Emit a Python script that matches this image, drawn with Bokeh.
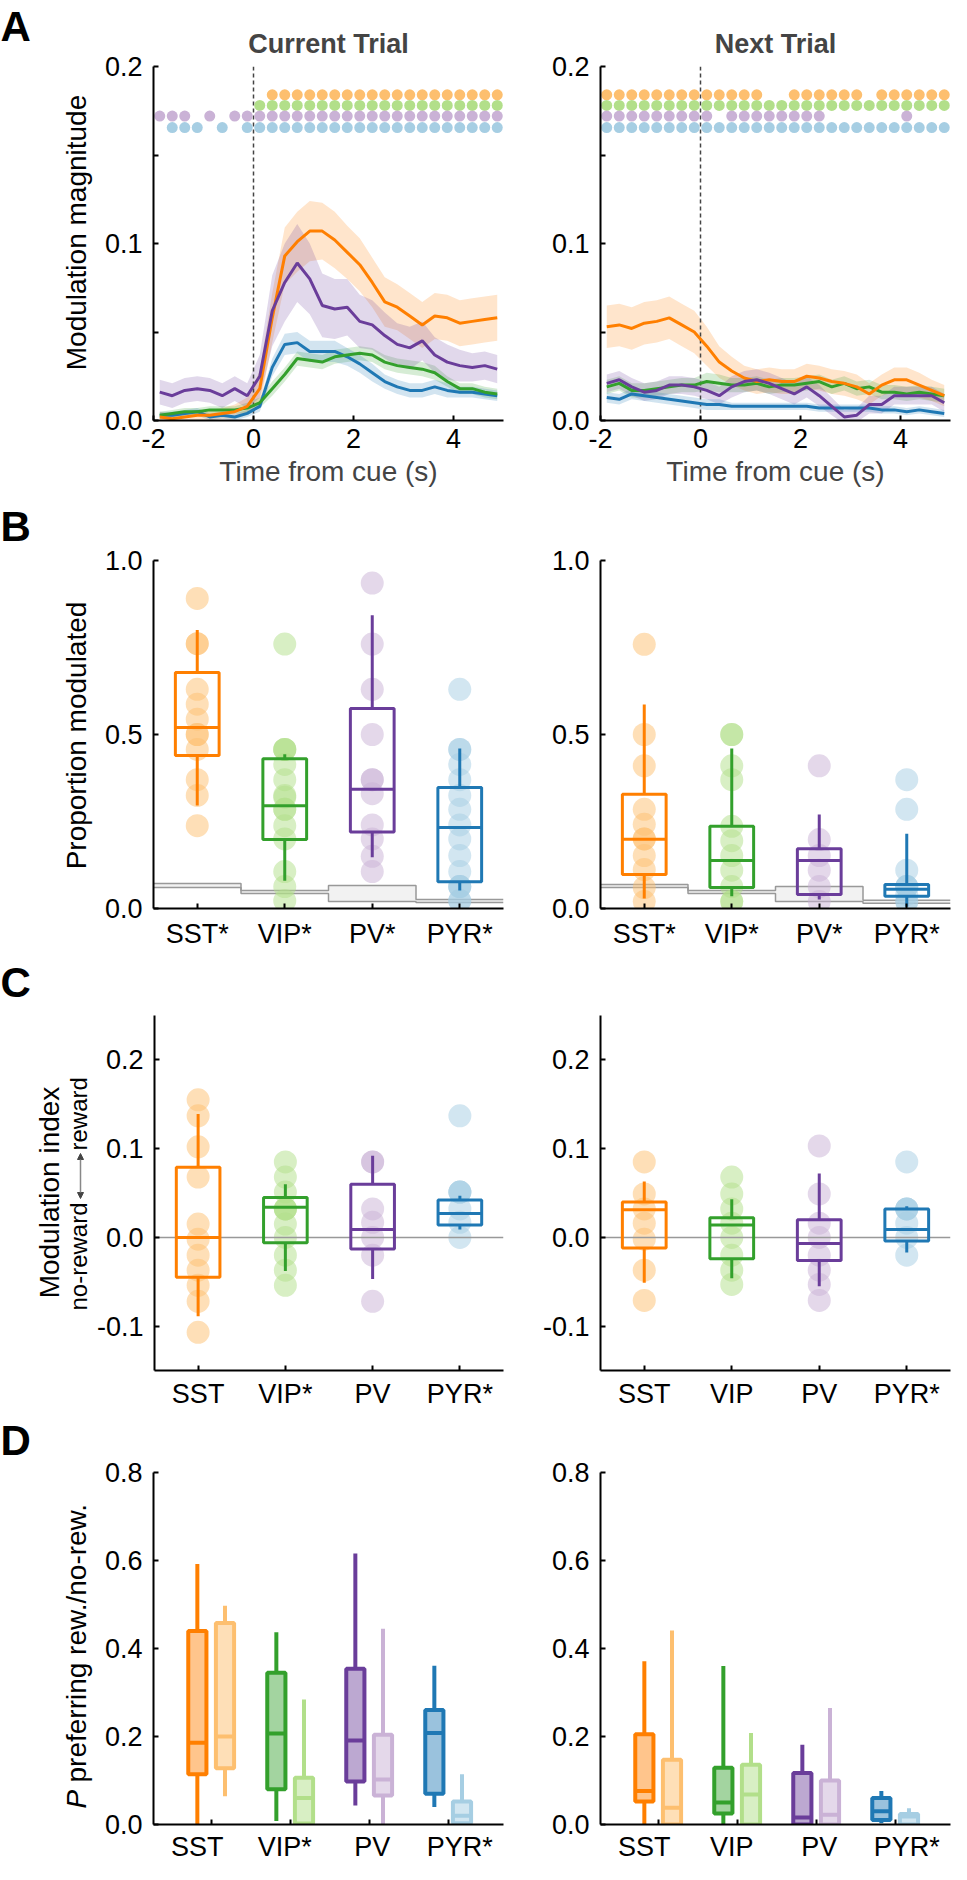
import numpy as np
from bokeh.plotting import figure
from bokeh.layouts import column, row
from bokeh.models import (FixedTicker, PrintfTickFormatter, CustomJSTickFormatter,
                          Label, Arrow, NormalHead)
from bokeh.embed import file_html
from bokeh.resources import INLINE

FONT = "Liberation Sans"

# cell types and colours (dark = main, light = paired / points)
cells = ["SST", "VIP", "PV", "PYR"]
dark = ["#ff7f00", "#33a02c", "#6a3d9a", "#1f78b4"]
light = ["#fdbf6f", "#b2df8a", "#cab2d6", "#a6cee3"]

# ---------------- panel A: modulation magnitude time courses ----------------
t = [-1.875, -1.625, -1.375, -1.125, -0.875, -0.625, -0.375, -0.125, 0.125, 0.375,
     0.625, 0.875, 1.125, 1.375, 1.625, 1.875, 2.125, 2.375, 2.625, 2.875,
     3.125, 3.375, 3.625, 3.875, 4.125, 4.375, 4.625, 4.875]

cur_sst = [0.002, 0.001, 0.002, 0.003, 0.003, 0.004, 0.005, 0.008, 0.018, 0.058,
           0.093, 0.101, 0.107, 0.107, 0.102, 0.095, 0.088, 0.078, 0.067, 0.064,
           0.059, 0.054, 0.059, 0.058, 0.055, 0.056, 0.057, 0.058]
cur_vip = [0.003, 0.004, 0.005, 0.005, 0.006, 0.006, 0.006, 0.007, 0.010, 0.018,
           0.026, 0.035, 0.034, 0.033, 0.036, 0.037, 0.038, 0.037, 0.033, 0.031,
           0.030, 0.029, 0.027, 0.022, 0.018, 0.018, 0.016, 0.015]
cur_pv = [0.016, 0.014, 0.017, 0.018, 0.017, 0.014, 0.018, 0.014, 0.025, 0.062,
          0.078, 0.089, 0.080, 0.065, 0.063, 0.064, 0.056, 0.054, 0.048, 0.043,
          0.041, 0.045, 0.037, 0.033, 0.031, 0.030, 0.031, 0.029]
cur_pyr = [0.003, 0.003, 0.004, 0.005, 0.002, 0.003, 0.002, 0.004, 0.008, 0.030,
           0.043, 0.044, 0.039, 0.039, 0.039, 0.036, 0.032, 0.027, 0.022, 0.019,
           0.017, 0.017, 0.019, 0.017, 0.016, 0.016, 0.015, 0.014]

cur_sem_sst = [0.003, 0.003, 0.003, 0.003, 0.003, 0.003, 0.004, 0.005, 0.010, 0.014,
               0.016, 0.017, 0.017, 0.016, 0.016, 0.015, 0.015, 0.014, 0.014, 0.013,
               0.013, 0.013, 0.013, 0.013, 0.013, 0.013, 0.013, 0.013]
cur_sem_vip = [0.002, 0.002, 0.002, 0.002, 0.002, 0.002, 0.002, 0.003, 0.003, 0.004,
               0.004, 0.004, 0.004, 0.004, 0.004, 0.004, 0.004, 0.004, 0.004, 0.004,
               0.004, 0.004, 0.004, 0.003, 0.003, 0.003, 0.003, 0.003]
cur_sem_pv = [0.007, 0.007, 0.007, 0.007, 0.007, 0.007, 0.007, 0.007, 0.012, 0.020,
              0.022, 0.022, 0.020, 0.018, 0.017, 0.016, 0.015, 0.014, 0.013, 0.012,
              0.012, 0.011, 0.010, 0.010, 0.009, 0.008, 0.008, 0.008]
cur_sem_pyr = [0.002, 0.002, 0.002, 0.002, 0.002, 0.002, 0.002, 0.002, 0.003, 0.005,
               0.006, 0.006, 0.006, 0.006, 0.006, 0.005, 0.005, 0.005, 0.004, 0.004,
               0.004, 0.004, 0.004, 0.004, 0.003, 0.003, 0.003, 0.003]

next_sst = [0.053, 0.054, 0.052, 0.055, 0.056, 0.058, 0.054, 0.050, 0.042, 0.033,
            0.028, 0.024, 0.022, 0.023, 0.022, 0.022, 0.025, 0.024, 0.022, 0.021,
            0.019, 0.015, 0.020, 0.023, 0.023, 0.020, 0.017, 0.014]
next_vip = [0.019, 0.021, 0.017, 0.017, 0.018, 0.019, 0.020, 0.020, 0.022, 0.021,
            0.020, 0.020, 0.021, 0.019, 0.020, 0.020, 0.021, 0.022, 0.019, 0.021,
            0.018, 0.019, 0.016, 0.016, 0.015, 0.016, 0.015, 0.014]
next_pv = [0.021, 0.023, 0.019, 0.016, 0.017, 0.020, 0.020, 0.019, 0.017, 0.014,
           0.019, 0.022, 0.023, 0.021, 0.018, 0.015, 0.019, 0.014, 0.008, 0.002,
           0.003, 0.009, 0.009, 0.014, 0.014, 0.014, 0.014, 0.010]
next_pyr = [0.013, 0.012, 0.015, 0.014, 0.013, 0.012, 0.011, 0.010, 0.009, 0.009,
            0.008, 0.008, 0.008, 0.008, 0.008, 0.008, 0.008, 0.007, 0.007, 0.007,
            0.007, 0.007, 0.006, 0.006, 0.005, 0.006, 0.005, 0.004]

next_sem_sst = [0.012, 0.012, 0.012, 0.012, 0.012, 0.012, 0.012, 0.012, 0.011, 0.009,
                0.008, 0.007, 0.007, 0.007, 0.007, 0.007, 0.007, 0.007, 0.007, 0.007,
                0.007, 0.006, 0.006, 0.007, 0.007, 0.007, 0.006, 0.006]
next_sem_vip = [0.004, 0.004, 0.004, 0.004, 0.004, 0.004, 0.004, 0.004, 0.005, 0.005,
                0.004, 0.004, 0.004, 0.004, 0.004, 0.004, 0.004, 0.004, 0.004, 0.004,
                0.004, 0.004, 0.004, 0.004, 0.004, 0.004, 0.004, 0.004]
next_sem_pv = [0.005, 0.005, 0.005, 0.005, 0.005, 0.005, 0.005, 0.005, 0.005, 0.005,
               0.006, 0.006, 0.006, 0.006, 0.006, 0.006, 0.006, 0.006, 0.005, 0.004,
               0.004, 0.005, 0.005, 0.005, 0.005, 0.005, 0.005, 0.005]
next_sem_pyr = [0.003, 0.003, 0.003, 0.003, 0.003, 0.003, 0.003, 0.003, 0.003, 0.003,
                0.002, 0.002, 0.002, 0.002, 0.002, 0.002, 0.002, 0.002, 0.002, 0.002,
                0.002, 0.002, 0.002, 0.002, 0.002, 0.002, 0.002, 0.002]

# significant time bins (1 = dot drawn)
sig_cur_sst = "0000000001111111111111111111"
sig_cur_vip = "0000000011111111111111111111"
sig_cur_pv = "1110101111111111111111111111"
sig_cur_pyr = "0111010111111111111111111111"
sig_next_sst = "1111111111111001111110111111"
sig_next_vip = "1111111111111111111111111111"
sig_next_pv = "1111111110111111110000001000"
sig_next_pyr = "1111111111111111111111111111"
sig_rows = [0.184, 0.178, 0.172, 0.1655]

# ---------------- panel B: proportion modulated ----------------
propB_cur = dict(
    wlo=[0.296, 0.080, 0.147, 0.052], q1=[0.440, 0.198, 0.220, 0.077],
    med=[0.520, 0.295, 0.343, 0.233], q3=[0.678, 0.430, 0.575, 0.348],
    whi=[0.800, 0.443, 0.843, 0.460])
ptsB_cur = [
    [0.891, 0.761, 0.761, 0.63, 0.587, 0.544, 0.5, 0.5, 0.457, 0.37, 0.325, 0.238],
    [0.76, 0.457, 0.457, 0.457, 0.414, 0.37, 0.325, 0.32, 0.285, 0.285, 0.238, 0.2,
     0.106, 0.063, 0.022],
    [0.935, 0.76, 0.63, 0.5, 0.37, 0.37, 0.33, 0.24, 0.2, 0.15, 0.106],
    [0.63, 0.457, 0.457, 0.414, 0.37, 0.325, 0.285, 0.24, 0.2, 0.152, 0.106,
     0.063, 0.063, 0.063, 0.022, 0.022]]
chanceB_cur_lo = [0.060, 0.043, 0.020, 0.017]
chanceB_cur_hi = [0.072, 0.052, 0.066, 0.026]

propB_next = dict(
    wlo=[0.029, 0.035, 0.026, 0.005], q1=[0.098, 0.060, 0.040, 0.035],
    med=[0.199, 0.138, 0.138, 0.055], q3=[0.328, 0.236, 0.172, 0.069],
    whi=[0.586, 0.460, 0.270, 0.215])
ptsB_next = [
    [0.759, 0.5, 0.41, 0.285, 0.242, 0.2, 0.2, 0.152, 0.112, 0.06, 0.02],
    [0.5, 0.5, 0.41, 0.37, 0.236, 0.195, 0.152, 0.11, 0.063, 0.02, 0.02],
    [0.41, 0.198, 0.152, 0.11, 0.063, 0.02],
    [0.37, 0.285, 0.11, 0.063, 0.063, 0.063, 0.04, 0.02, 0.02]]
chanceB_next_lo = [0.060, 0.043, 0.020, 0.015]
chanceB_next_hi = [0.069, 0.052, 0.063, 0.024]
labelsB = ["SST*", "VIP*", "PV*", "PYR*"]

# ---------------- panel C: modulation index ----------------
idxC_cur = dict(
    wlo=[-0.089, -0.038, -0.047, 0.009], q1=[-0.045, -0.006, -0.013, 0.014],
    med=[0.000, 0.034, 0.009, 0.027], q3=[0.079, 0.045, 0.060, 0.042],
    whi=[0.139, 0.060, 0.092, 0.047])
ptsC_cur = [
    [0.155, 0.137, 0.102, 0.068, 0.015, -0.002, -0.02, -0.037, -0.054, -0.072, -0.107],
    [0.085, 0.068, 0.051, 0.032, 0.032, 0.032, 0.015, 0.0, -0.02, -0.037, -0.054],
    [0.085, 0.085, 0.032, 0.017, 0.0, -0.02, -0.072],
    [0.137, 0.051, 0.051, 0.051, 0.032, 0.017, 0.0]]
idxC_next = dict(
    wlo=[-0.051, -0.046, -0.055, -0.017], q1=[-0.012, -0.024, -0.026, -0.004],
    med=[0.031, 0.014, -0.007, 0.009], q3=[0.040, 0.022, 0.020, 0.032],
    whi=[0.063, 0.043, 0.072, 0.035])
ptsC_next = [
    [0.085, 0.049, 0.032, 0.016, -0.002, -0.037, -0.071],
    [0.068, 0.049, 0.032, 0.016, 0.0, -0.02, -0.037, -0.053],
    [0.103, 0.049, 0.016, 0.0, -0.02, -0.037, -0.053, -0.071],
    [0.085, 0.032, 0.032, 0.032, 0.016, 0.0, -0.02]]
labelsC_cur = ["SST", "VIP*", "PV", "PYR*"]
labelsC_next = ["SST", "VIP", "PV", "PYR*"]

# ---------------- panel D: P preferring rew. (dark) / no-rew. (light) ----------------
rewD_cur = dict(
    wlo=[0.000, 0.008, 0.043, 0.040], q1=[0.114, 0.080, 0.098, 0.070],
    med=[0.186, 0.207, 0.191, 0.208], q3=[0.440, 0.345, 0.354, 0.260],
    whi=[0.592, 0.437, 0.616, 0.361])
norD_cur = dict(
    wlo=[0.064, 0.000, 0.000, 0.000], q1=[0.128, 0.002, 0.066, 0.003],
    med=[0.200, 0.060, 0.102, 0.020], q3=[0.458, 0.106, 0.204, 0.052],
    whi=[0.497, 0.284, 0.445, 0.114])
rewD_next = dict(
    wlo=[0.000, 0.000, 0.000, 0.003], q1=[0.052, 0.025, 0.000, 0.010],
    med=[0.076, 0.050, 0.016, 0.030], q3=[0.205, 0.129, 0.117, 0.060],
    whi=[0.371, 0.360, 0.181, 0.076])
norD_next = dict(
    wlo=[0.000, 0.000, 0.000, 0.000], q1=[0.000, 0.000, 0.000, 0.000],
    med=[0.038, 0.068, 0.022, 0.018], q3=[0.147, 0.136, 0.100, 0.024],
    whi=[0.441, 0.208, 0.265, 0.037])
labelsD_cur = ["SST", "VIP*", "PV", "PYR*"]
labelsD_next = ["SST", "VIP", "PV", "PYR*"]

# ---------------- layout (pixels) ----------------
GUT_W = 93                            # left gutter holding panel letters + y labels
FRAME_W = 350
SIDES = [(60, 10), (87, 1)]           # (left border, right border)
ROWS = {"A": (66, 354, 82), "B": (58, 348, 54), "C": (53, 355, 48), "D": (54, 352, 40)}
TOTAL_H = sum(sum(v) for v in ROWS.values())
D_LO, D_PX = 0.27, 79.0               # panel D x scale


def new_fig(rk, side, xr, yr):
    top, fh, bot = ROWS[rk]
    lb, rb = SIDES[side]
    p = figure(width=lb + FRAME_W + rb, height=top + fh + bot, x_range=xr, y_range=yr,
               output_backend="svg", toolbar_location=None,
               min_border_left=lb, min_border_right=rb,
               min_border_top=top, min_border_bottom=bot)
    p.outline_line_color = None
    p.grid.visible = False
    p.background_fill_color = "white"
    p.border_fill_color = "white"
    for ax in p.axis:
        ax.axis_line_width = 2
        ax.axis_line_color = "black"
        ax.major_tick_in = 5
        ax.major_tick_out = 0
        ax.minor_tick_in = 5
        ax.minor_tick_out = 0
        ax.major_tick_line_width = 2
        ax.minor_tick_line_width = 2
        ax.major_label_text_font = FONT
        ax.major_label_text_font_size = "27px"
        ax.major_label_text_color = "black"
    p.xaxis.major_label_standoff = 8
    p.yaxis.major_label_standoff = 11
    return p


# gutter: data coordinates are page pixels (offset by the 8px body margin)
gut = figure(width=GUT_W, height=TOTAL_H, x_range=(0, GUT_W), y_range=(TOTAL_H, 0),
             output_backend="svg", toolbar_location=None, x_axis_location=None,
             y_axis_location=None, min_border=0)
gut.outline_line_color = None
gut.grid.visible = False


def gut_text(px, py, text, size, style="normal", align="center", angle=0.0):
    gut.add_layout(Label(x=px - 8, y=py - 8, text=text, text_font=FONT,
                         text_font_size=size, text_font_style=style, text_align=align,
                         text_baseline="middle", angle=angle, text_color="black"))


def cat_axis(p, ticks, names, minor=None):
    p.xaxis.ticker = FixedTicker(ticks=ticks, minor_ticks=minor or [])
    p.xaxis.formatter = CustomJSTickFormatter(args=dict(names=names),
                                              code="return names[index];")


def draw_boxes(p, pos, st, half, line_cols, lw, fill_cols=None, fill_alpha=0.0):
    pos = np.asarray(pos, dtype=float)
    p.segment(x0=pos, y0=st["wlo"], x1=pos, y1=st["q1"], line_color=line_cols, line_width=lw)
    p.segment(x0=pos, y0=st["q3"], x1=pos, y1=st["whi"], line_color=line_cols, line_width=lw)
    p.quad(left=pos - half, right=pos + half, bottom=st["q1"], top=st["q3"],
           fill_color=fill_cols if fill_cols else None, fill_alpha=fill_alpha,
           line_color=line_cols, line_width=lw)
    p.segment(x0=pos - half, y0=st["med"], x1=pos + half, y1=st["med"],
              line_color=line_cols, line_width=lw)


def draw_points(p, pts):
    xs, ys, cs = [], [], []
    for i, vals in enumerate(pts):
        xs += [i + 1] * len(vals)
        ys += vals
        cs += [light[i]] * len(vals)
    p.scatter(xs, ys, size=23, fill_color=cs, fill_alpha=0.5, line_color=None)


# ---------------- row A ----------------
rowA = []
a_sets = [
    ([cur_sst, cur_vip, cur_pv, cur_pyr], [cur_sem_sst, cur_sem_vip, cur_sem_pv, cur_sem_pyr],
     [sig_cur_sst, sig_cur_vip, sig_cur_pv, sig_cur_pyr], "Current Trial"),
    ([next_sst, next_vip, next_pv, next_pyr], [next_sem_sst, next_sem_vip, next_sem_pv, next_sem_pyr],
     [sig_next_sst, sig_next_vip, sig_next_pv, sig_next_pyr], "Next Trial"),
]
for side, (means, sems, sigs, title) in enumerate(a_sets):
    p = new_fig("A", side, (-2, 5), (0, 0.2))
    tt = np.array(t)
    for i in range(4):
        m, s = np.array(means[i]), np.array(sems[i])
        p.varea(x=tt, y1=m - s, y2=m + s, fill_color=dark[i], fill_alpha=0.2)
    p.line([0, 0], [0, 0.2], line_color="#444444", line_width=1.5, line_dash="4 3")
    for i in [3, 1, 0, 2]:
        p.line(tt, means[i], line_color=dark[i], line_width=3)
    for i in range(4):
        xs = [t[k] for k, c in enumerate(sigs[i]) if c == "1"]
        p.scatter(xs, [sig_rows[i]] * len(xs), size=11, fill_color=light[i], line_color=None)
    p.xaxis.ticker = FixedTicker(ticks=[-2, 0, 2, 4])
    p.xaxis.formatter = PrintfTickFormatter(format="%d")
    p.yaxis.ticker = FixedTicker(ticks=[0, 0.1, 0.2], minor_ticks=[0.05, 0.15])
    p.yaxis.formatter = PrintfTickFormatter(format="%.1f")
    p.xaxis.axis_label = "Time from cue (s)"
    p.xaxis.axis_label_text_font = FONT
    p.xaxis.axis_label_text_font_size = "28px"
    p.xaxis.axis_label_text_font_style = "normal"
    p.xaxis.axis_label_standoff = 5
    p.title.text = title
    p.title.align = "center"
    p.title.text_font = FONT
    p.title.text_font_size = "27px"
    p.title.text_font_style = "bold"
    p.title.standoff = 16
    rowA.append(p)

# ---------------- row B ----------------
rowB = []
b_sets = [(propB_cur, ptsB_cur, chanceB_cur_lo, chanceB_cur_hi),
          (propB_next, ptsB_next, chanceB_next_lo, chanceB_next_hi)]
cat = np.array([1, 2, 3, 4], dtype=float)
for side, (st, pts, clo, chi) in enumerate(b_sets):
    p = new_fig("B", side, (0.5, 4.5), (0, 1.0))
    p.quad(left=cat - 0.5, right=cat + 0.5, bottom=clo, top=chi,
           fill_color="#f2f2f2", line_color=None)
    step_x = np.repeat(cat, 2) + np.tile([-0.5, 0.5], 4)
    p.line(step_x, np.repeat(clo, 2), line_color="#999999", line_width=1.5)
    p.line(step_x, np.repeat(chi, 2), line_color="#999999", line_width=1.5)
    draw_points(p, pts)
    draw_boxes(p, cat, st, 0.25, dark, 3)
    cat_axis(p, [1, 2, 3, 4], labelsB)
    p.yaxis.ticker = FixedTicker(ticks=[0, 0.5, 1.0])
    p.yaxis.formatter = PrintfTickFormatter(format="%.1f")
    p.xaxis.major_label_standoff = 10
    rowB.append(p)

# ---------------- row C ----------------
rowC = []
c_sets = [(idxC_cur, ptsC_cur, labelsC_cur), (idxC_next, ptsC_next, labelsC_next)]
for side, (st, pts, labs) in enumerate(c_sets):
    p = new_fig("C", side, (0.5, 4.5), (-0.15, 0.25))
    draw_points(p, pts)
    p.segment(x0=[0.5], y0=[0], x1=[4.5], y1=[0], line_color="#999999", line_width=1.5)
    draw_boxes(p, cat, st, 0.25, dark, 3)
    cat_axis(p, [1, 2, 3, 4], labs)
    p.yaxis.ticker = FixedTicker(ticks=[-0.1, 0, 0.1, 0.2])
    p.yaxis.formatter = PrintfTickFormatter(format="%.1f")
    rowC.append(p)

# ---------------- row D ----------------
rowD = []
d_sets = [(rewD_cur, norD_cur, labelsD_cur), (rewD_next, norD_next, labelsD_next)]
d_hi = D_LO + FRAME_W / D_PX
# labels sit where the B/C category labels are
lab_pos = [D_LO + (k - 0.5) * (FRAME_W / 4) / D_PX for k in [1, 2, 3, 4]]
for side, (rew, nor, labs) in enumerate(d_sets):
    p = new_fig("D", side, (D_LO, d_hi), (0, 0.8))
    draw_boxes(p, cat - 0.175, rew, 0.115, dark, 4, fill_cols=dark, fill_alpha=0.45)
    draw_boxes(p, cat + 0.175, nor, 0.115, light, 4, fill_cols=light, fill_alpha=0.5)
    cat_axis(p, lab_pos, labs, minor=[1, 2, 3, 4])
    p.xaxis.major_tick_in = 0
    p.xaxis.major_label_standoff = 7
    p.yaxis.ticker = FixedTicker(ticks=[0, 0.2, 0.4, 0.6, 0.8])
    p.yaxis.formatter = PrintfTickFormatter(format="%.1f")
    rowD.append(p)

# ---------------- gutter texts: panel letters and y-axis labels ----------------
gut_text(8, 34, "A", "42px", style="bold", align="left")
gut_text(8, 534, "B", "42px", style="bold", align="left")
gut_text(8, 990, "C", "42px", style="bold", align="left")
gut_text(8, 1448, "D", "42px", style="bold", align="left")
gut_text(84, 240, "Modulation magnitude", "28px", angle=np.pi / 2)
gut_text(84, 743, "Proportion modulated", "28px", angle=np.pi / 2)
gut_text(57, 1200, "Modulation index", "28px", angle=np.pi / 2)
gut_text(86, 1158, "reward", "24px", align="left", angle=np.pi / 2)
gut_text(86, 1210, "no-reward", "24px", align="right", angle=np.pi / 2)
head = dict(size=6, fill_color="#444444", line_color="#444444")
gut.add_layout(Arrow(start=NormalHead(**head), end=NormalHead(**head),
                     x_start=88 - 8, y_start=1206 - 8, x_end=88 - 8, y_end=1161 - 8,
                     line_color="#888888", line_width=1.5))
gut_text(84, 1816, "P", "28px", style="italic", align="left", angle=np.pi / 2)
gut_text(84, 1790, "preferring rew./no-rew.", "28px", align="left", angle=np.pi / 2)

layout = row(gut, column(row(*rowA), row(*rowB), row(*rowC), row(*rowD)))
open("out.html", "w").write(file_html(layout, INLINE))
